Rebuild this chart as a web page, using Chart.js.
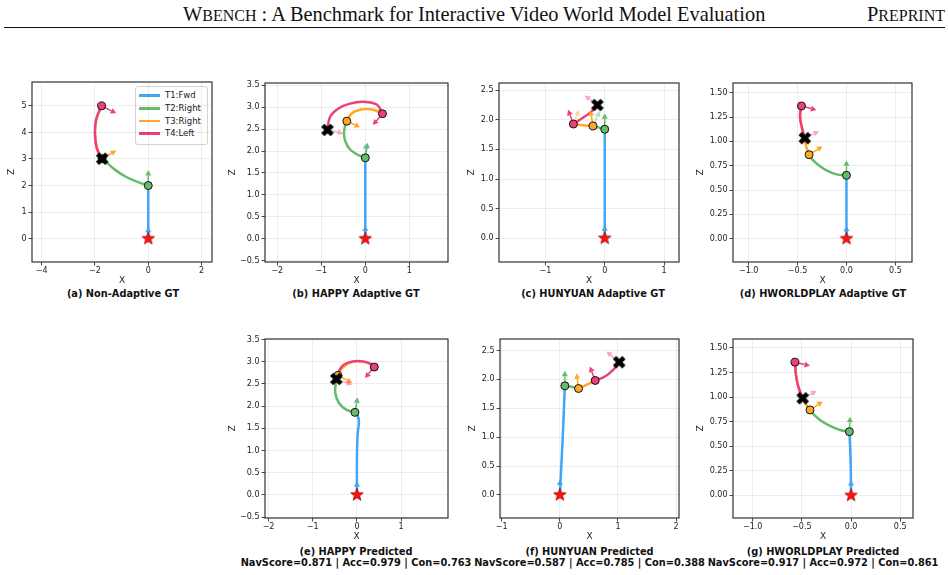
<!DOCTYPE html>
<html>
<head>
<meta charset="utf-8">
<script src="https://cdn.jsdelivr.net/npm/chart.js@4.4.1/dist/chart.umd.min.js"></script>
<style>
body { margin: 0; background: #fff; width: 948px; height: 575px; overflow: hidden; position: relative; font-family: 'DejaVu Sans', sans-serif; }
canvas { position: absolute; }
.hdr { position: absolute; font-family: 'Liberation Serif', serif; font-size: 20.4px; line-height: 22px; color: #111; white-space: nowrap; }
.sc { font-size: 16px; }
.cap { position: absolute; width: 320px; text-align: center; font-weight: bold; font-size: 9.8px; line-height: 12px; color: #111; white-space: nowrap; }
.lg-row { position: absolute; left: 0; height: 12px; font-size: 8.5px; line-height: 12px; color: #222; }
.lg-sw { position: absolute; left: 3px; top: 5px; width: 21px; height: 2.5px; }
.lg-tx { position: absolute; left: 29px; top: 0; white-space: nowrap; }
</style>
</head>
<body>
<div class="hdr" style="left:183px; top:3px;">W<span class="sc">BENCH</span> : A Benchmark for Interactive Video World Model Evaluation</div>
<div class="hdr" style="right:3px; top:3px;">P<span class="sc">REPRINT</span></div>
<div style="position:absolute; left:4px; top:27px; width:941px; height:1px; background:#111;"></div>
<div id="legend" style="position:absolute; left:135px; top:86px; width:71px; height:57px; border:1px solid #d4d4d4; border-radius:3px; background:rgba(255,255,255,0.85);"></div>

<script>
// segment names / colours
var segNames = ['T1:Fwd', 'T2:Right', 'T3:Right', 'T4:Left'];
var segColors = ['#42A5F5', '#66BB6A', '#FFA726', '#EC407A'];

// (a) Non-Adaptive GT  -- points are [x, z]
var aFwd = [[0, 0], [0, 2.0]];
var aRight1 = [[0, 2.0], [-0.43, 2.15], [-0.86, 2.34], [-1.24, 2.59], [-1.53, 2.84], [-1.73, 3.01]];
var aRight2 = [[-1.73, 3.01], [-1.93, 3.41], [-2.0, 3.97], [-1.95, 4.5], [-1.75, 5.0]];
var aLeft = [[-1.75, 5.0], [-1.95, 4.5], [-2.0, 3.97], [-1.93, 3.41], [-1.73, 3.01]];
var aHeads = [
    {seg: 0, from: [0, 0], to: [0, 0.45]},
    {seg: 1, from: [0, 2.0], to: [0, 2.59]},
    {seg: 2, from: [-1.73, 3.01], to: [-1.2, 3.32]},
    {seg: 3, from: [-1.75, 5.0], to: [-1.2, 4.72]}
];

// (b) HAPPY Adaptive GT
var bFwd = [[0, 0], [0, 1.845]];
var bRight1 = [[0, 1.845], [-0.2, 1.93], [-0.35, 2.04], [-0.45, 2.21], [-0.485, 2.4], [-0.455, 2.59], [-0.42, 2.68]];
var bRight2 = [[-0.42, 2.68], [-0.31, 2.855], [-0.16, 2.93], [0.03, 2.955], [0.22, 2.93], [0.39, 2.85]];
var bLeft = [[0.39, 2.85], [0.26, 3.06], [-0.045, 3.12], [-0.35, 3.08], [-0.61, 2.97], [-0.8, 2.78], [-0.86, 2.48]];
var bHeads = [
    {seg: 0, from: [0, 0], to: [0, 0.3]},
    {seg: 0, from: [0, 1.845], to: [0, 2.17], faint: true},
    {seg: 1, from: [0, 1.845], to: [0.053, 2.19]},
    {seg: 2, from: [-0.42, 2.68], to: [-0.12, 2.54]},
    {seg: 3, from: [0.39, 2.85], to: [0.17, 2.59]},
    {seg: 3, from: [-0.86, 2.48], to: [-0.5, 2.4], faint: true}
];

// (c) HUNYUAN Adaptive GT
var cFwd = [[0, 0], [0, 1.84]];
var cRight1 = [[0, 1.84], [-0.096, 1.867], [-0.197, 1.895]];
var cRight2 = [[-0.197, 1.895], [-0.365, 1.906], [-0.528, 1.928]];
var cLeft = [[-0.528, 1.928], [-0.393, 2.018], [-0.253, 2.113], [-0.124, 2.248]];
var cHeads = [
    {seg: 0, from: [0, 0], to: [0, 0.22]},
    {seg: 1, from: [0, 1.84], to: [0, 2.11]},
    {seg: 1, from: [-0.197, 1.895], to: [-0.084, 2.147], faint: true},
    {seg: 2, from: [-0.197, 1.895], to: [-0.242, 2.158]},
    {seg: 2, from: [-0.528, 1.928], to: [-0.433, 2.169], faint: true},
    {seg: 3, from: [-0.528, 1.928], to: [-0.618, 2.169]},
    {seg: 3, from: [-0.124, 2.248], to: [-0.337, 2.41], faint: true}
];

// (d) HWORLDPLAY Adaptive GT
var dFwd = [[0, 0], [0, 0.651]];
var dRight1 = [[0, 0.651], [-0.102, 0.661], [-0.205, 0.702], [-0.29, 0.76], [-0.358, 0.822], [-0.382, 0.863]];
var dRight2 = [[-0.382, 0.863], [-0.41, 0.94], [-0.43, 1.03], [-0.455, 1.14], [-0.475, 1.26], [-0.46, 1.364]];
var dLeft = [[-0.46, 1.364], [-0.475, 1.26], [-0.455, 1.14], [-0.426, 1.033]];
var dHeads = [
    {seg: 0, from: [0, 0], to: [0, 0.133]},
    {seg: 1, from: [0, 0.651], to: [0, 0.805]},
    {seg: 2, from: [-0.382, 0.863], to: [-0.245, 0.948]},
    {seg: 3, from: [-0.46, 1.364], to: [-0.307, 1.323]},
    {seg: 3, from: [-0.426, 1.033], to: [-0.28, 1.105], faint: true}
];

// (e) HAPPY Predicted
var eFwd = [[0, 0], [0, 0.83], [0.015, 1.36], [0.045, 1.657], [0.008, 1.806], [-0.045, 1.859]];
var eRight1 = [[-0.045, 1.859], [-0.241, 1.919], [-0.407, 2.069], [-0.49, 2.294], [-0.48, 2.5], [-0.43, 2.69]];
var eRight2 = [[-0.43, 2.69], [-0.317, 2.87], [-0.09, 3.0], [0.136, 3.0], [0.324, 2.946], [0.392, 2.879]];
var eLeft = [[0.392, 2.879], [0.324, 2.946], [0.136, 3.006], [-0.09, 3.006], [-0.317, 2.916], [-0.44, 2.72], [-0.467, 2.61]];
var eHeads = [
    {seg: 0, from: [0, 0], to: [0, 0.31]},
    {seg: 1, from: [-0.045, 1.859], to: [0.015, 2.196]},
    {seg: 2, from: [-0.43, 2.69], to: [-0.106, 2.519]},
    {seg: 3, from: [0.392, 2.879], to: [0.181, 2.631]},
    {seg: 3, from: [-0.467, 2.61], to: [-0.106, 2.48], faint: true}
];

// (f) HUNYUAN Predicted
var fFwd = [[0, 0], [0.046, 0.927], [0.086, 1.889]];
var fRight1 = [[0.086, 1.889], [0.201, 1.872], [0.321, 1.843]];
var fRight2 = [[0.321, 1.843], [0.459, 1.907], [0.608, 1.982]];
var fLeft = [[0.608, 1.982], [0.775, 2.051], [0.918, 2.166], [1.021, 2.298]];
var fHeads = [
    {seg: 0, from: [0, 0], to: [0, 0.265]},
    {seg: 1, from: [0.086, 1.889], to: [0.086, 2.149]},
    {seg: 2, from: [0.321, 1.843], to: [0.287, 2.108]},
    {seg: 3, from: [0.608, 1.982], to: [0.516, 2.223]},
    {seg: 3, from: [1.021, 2.298], to: [0.803, 2.483], faint: true}
];

// (g) HWORLDPLAY Predicted
var gFwd = [[0, 0], [-0.003, 0.309], [-0.01, 0.512], [-0.017, 0.648]];
var gRight1 = [[-0.017, 0.648], [-0.112, 0.665], [-0.214, 0.706], [-0.316, 0.767], [-0.383, 0.825], [-0.417, 0.869]];
var gRight2 = [[-0.417, 0.869], [-0.458, 0.926], [-0.492, 0.987], [-0.536, 1.106], [-0.56, 1.225], [-0.57, 1.354]];
var gLeft = [[-0.57, 1.354], [-0.56, 1.225], [-0.536, 1.106], [-0.492, 0.987]];
var gHeads = [
    {seg: 0, from: [0, 0], to: [0, 0.156]},
    {seg: 1, from: [-0.017, 0.648], to: [-0.01, 0.80]},
    {seg: 2, from: [-0.417, 0.869], to: [-0.288, 0.954]},
    {seg: 3, from: [-0.57, 1.354], to: [-0.417, 1.317]},
    {seg: 3, from: [-0.492, 0.987], to: [-0.35, 1.062], faint: true}
];

// scores under the predicted panels (e, f, g)
var navScores = [0.871, 0.587, 0.917];
var accScores = [0.979, 0.785, 0.972];
var conScores = [0.763, 0.388, 0.861];

// tick values and labels
var xTicksA = [-4, -2, 0, 2], xLabelsA = ['\u22124', '\u22122', '0', '2'];
var yTicksA = [0, 1, 2, 3, 4, 5], yLabelsA = ['0', '1', '2', '3', '4', '5'];
var xTicksHappy = [-2, -1, 0, 1], xLabelsHappy = ['\u22122', '\u22121', '0', '1'];
var yTicksHappy = [-0.5, 0, 0.5, 1, 1.5, 2, 2.5, 3, 3.5];
var yLabelsHappy = ['\u22120.5', '0.0', '0.5', '1.0', '1.5', '2.0', '2.5', '3.0', '3.5'];
var xTicksHyC = [-1, 0, 1], xLabelsHyC = ['\u22121', '0', '1'];
var xTicksHyF = [-1, 0, 1, 2], xLabelsHyF = ['\u22121', '0', '1', '2'];
var yTicksHy = [0, 0.5, 1, 1.5, 2, 2.5], yLabelsHy = ['0.0', '0.5', '1.0', '1.5', '2.0', '2.5'];
var xTicksHw = [-1, -0.5, 0, 0.5], xLabelsHw = ['\u22121.0', '\u22120.5', '0.0', '0.5'];
var yTicksHw = [0, 0.25, 0.5, 0.75, 1, 1.25, 1.5];
var yLabelsHw = ['0.00', '0.25', '0.50', '0.75', '1.00', '1.25', '1.50'];

function scoreLine(i) {
    return 'NavScore=' + navScores[i].toFixed(3) + ' | Acc=' + accScores[i].toFixed(3) + ' | Con=' + conScores[i].toFixed(3);
}

// box = plot area on the page [left, top, right, bottom]
var panels = [
    {title: '(a) Non-Adaptive GT', segs: [aFwd, aRight1, aRight2, aLeft], heads: aHeads, box: [32, 82, 212, 262], yW: 26,
     xr: [-4.36, 2.39], yr: [-0.88, 5.90], xt: xTicksA, xl: xLabelsA, yt: yTicksA, yl: yLabelsA, cx: 123, cy: 294},
    {title: '(b) HAPPY Adaptive GT', segs: [bFwd, bRight1, bRight2, bLeft], heads: bHeads, box: [265, 83, 448, 262], yW: 38,
     xr: [-2.28, 1.88], yr: [-0.53, 3.55], xt: xTicksHappy, xl: xLabelsHappy, yt: yTicksHappy, yl: yLabelsHappy, cx: 356, cy: 294},
    {title: '(c) HUNYUAN Adaptive GT', segs: [cFwd, cRight1, cRight2, cLeft], heads: cHeads, box: [499, 83, 679, 262], yW: 33,
     xr: [-1.78, 1.25], yr: [-0.40, 2.62], xt: xTicksHyC, xl: xLabelsHyC, yt: yTicksHy, yl: yLabelsHy, cx: 593, cy: 294},
    {title: '(d) HWORLDPLAY Adaptive GT', segs: [dFwd, dRight1, dRight2, dLeft], heads: dHeads, box: [733, 83, 912, 262], yW: 38,
     xr: [-1.16, 0.67], yr: [-0.24, 1.60], xt: xTicksHw, xl: xLabelsHw, yt: yTicksHw, yl: yLabelsHw, cx: 823, cy: 294},
    {title: '(e) HAPPY Predicted', sub: scoreLine(0), segs: [eFwd, eRight1, eRight2, eLeft], heads: eHeads, box: [265, 339, 448, 518], yW: 38,
     xr: [-2.08, 2.06], yr: [-0.52, 3.51], xt: xTicksHappy, xl: xLabelsHappy, yt: yTicksHappy, yl: yLabelsHappy, cx: 356, cy: 551.5},
    {title: '(f) HUNYUAN Predicted', sub: scoreLine(1), segs: [fFwd, fRight1, fRight2, fLeft], heads: fHeads, box: [500, 339, 679, 518], yW: 33,
     xr: [-1.03, 2.05], yr: [-0.40, 2.70], xt: xTicksHyF, xl: xLabelsHyF, yt: yTicksHy, yl: yLabelsHy, cx: 589.5, cy: 551.5},
    {title: '(g) HWORLDPLAY Predicted', sub: scoreLine(2), segs: [gFwd, gRight1, gRight2, gLeft], heads: gHeads, box: [733, 339, 913, 518], yW: 38,
     xr: [-1.20, 0.63], yr: [-0.23, 1.59], xt: xTicksHw, xl: xLabelsHw, yt: yTicksHw, yl: yLabelsHw, cx: 823, cy: 551.5}
];

var PAD_T = 8, PAD_R = 12, X_H = 26;
var tickFont = {family: 'DejaVu Sans', size: 8};
var titleFont = {family: 'DejaVu Sans', size: 9};

function starMarker() {
    var c = document.createElement('canvas');
    c.width = 16; c.height = 16;
    var g = c.getContext('2d');
    g.beginPath();
    for (var i = 0; i < 10; i++) {
        var r = i % 2 ? 2.7 : 6.6, a = -Math.PI / 2 + i * Math.PI / 5;
        g.lineTo(8 + r * Math.cos(a), 8 + r * Math.sin(a));
    }
    g.closePath();
    g.fillStyle = '#ff1010';
    g.fill();
    g.strokeStyle = '#b00000';
    g.lineWidth = 0.8;
    g.stroke();
    return c;
}

function crossMarker() {
    var c = document.createElement('canvas');
    c.width = 18; c.height = 18;
    var g = c.getContext('2d');
    var h = 6.6, w = 2.3;
    var pts = [[-h, -w], [-w, -w], [-w, -h], [w, -h], [w, -w], [h, -w], [h, w], [w, w], [w, h], [-w, h], [-w, w], [-h, w]];
    var ca = Math.cos(Math.PI / 4), sa = Math.sin(Math.PI / 4);
    g.beginPath();
    pts.forEach(function (p) {
        g.lineTo(9 + p[0] * ca - p[1] * sa, 9 + p[0] * sa + p[1] * ca);
    });
    g.closePath();
    g.fillStyle = '#000';
    g.fill();
    return c;
}

var starImg = starMarker();
var crossImg = crossMarker();

function toXY(list) {
    return list.map(function (p) { return {x: p[0], y: p[1]}; });
}

function drawHeads(chart) {
    var ctx = chart.ctx, xs = chart.scales.x, ys = chart.scales.y, ca = chart.chartArea;
    ctx.save();
    ctx.beginPath();
    ctx.rect(ca.left, ca.top, ca.right - ca.left, ca.bottom - ca.top);
    ctx.clip();
    chart.options.plugins.traj.heads.forEach(function (h) {
        var x0 = xs.getPixelForValue(h.from[0]), y0 = ys.getPixelForValue(h.from[1]);
        var x1 = xs.getPixelForValue(h.to[0]), y1 = ys.getPixelForValue(h.to[1]);
        var ang = Math.atan2(y1 - y0, x1 - x0);
        var co = Math.cos(ang), si = Math.sin(ang);
        var hl = 5.5, hw = 3;
        ctx.globalAlpha = h.faint ? 0.45 : 1;
        ctx.strokeStyle = segColors[h.seg];
        ctx.fillStyle = segColors[h.seg];
        ctx.lineWidth = 1.5;
        ctx.beginPath();
        ctx.moveTo(x0, y0);
        ctx.lineTo(x1 - hl * co, y1 - hl * si);
        ctx.stroke();
        ctx.beginPath();
        ctx.moveTo(x1, y1);
        ctx.lineTo(x1 - hl * co + hw * si, y1 - hl * si - hw * co);
        ctx.lineTo(x1 - hl * co - hw * si, y1 - hl * si + hw * co);
        ctx.closePath();
        ctx.fill();
    });
    ctx.restore();
}

var trajPlugin = {
    id: 'traj',
    beforeDatasetsDraw: function (chart) { chart.$headsDone = false; },
    beforeDatasetDraw: function (chart, args) {
        if (chart.data.datasets[args.index].isMarker && !chart.$headsDone) {
            drawHeads(chart);
            chart.$headsDone = true;
        }
    },
    afterDraw: function (chart) {
        var ctx = chart.ctx, ca = chart.chartArea;
        ctx.save();
        ctx.strokeStyle = '#333';
        ctx.lineWidth = 1.2;
        ctx.strokeRect(ca.left, ca.top, ca.right - ca.left, ca.bottom - ca.top);
        ctx.restore();
    }
};

function axisOpts(range, ticks, labels, title, isX, size) {
    return {
        type: 'linear',
        min: range[0],
        max: range[1],
        afterBuildTicks: function (s) { s.ticks = ticks.map(function (v) { return {value: v}; }); },
        afterFit: function (s) { if (isX) { s.height = size; } else { s.width = size; } },
        ticks: {
            autoSkip: false, maxRotation: 0, font: tickFont, color: '#222', padding: isX ? 1 : 2,
            callback: function (v, i) { return labels[i]; }
        },
        grid: {color: 'rgba(0,0,0,0.09)', lineWidth: 0.8, tickColor: '#333', tickLength: 3.5, tickWidth: 0.9},
        border: {display: false},
        title: {display: true, text: title, font: titleFont, color: '#222', padding: isX ? {top: 0, bottom: 2} : 0}
    };
}

function makePanel(p) {
    var L = p.box[0], T = p.box[1], R = p.box[2], B = p.box[3];
    var cv = document.createElement('canvas');
    cv.width = p.yW + (R - L) + PAD_R;
    cv.height = PAD_T + (B - T) + X_H;
    cv.style.left = (L - p.yW) + 'px';
    cv.style.top = (T - PAD_T) + 'px';
    document.body.appendChild(cv);

    var datasets = [];
    p.segs.forEach(function (seg, i) {
        datasets.push({
            data: toXY(seg), showLine: true, borderColor: segColors[i], borderWidth: 2.5,
            pointRadius: 0, tension: 0.4, fill: false, borderCapStyle: 'round', borderJoinStyle: 'round',
            order: 5 - i * 0.5
        });
    });
    datasets.push({data: toXY([p.segs[0][0]]), pointStyle: starImg, pointRadius: 7, order: 1, isMarker: true});
    for (var i = 1; i < 4; i++) {
        datasets.push({
            data: toXY([p.segs[i][0]]), pointRadius: 4, pointBackgroundColor: segColors[i],
            pointBorderColor: '#111', pointBorderWidth: 1, order: 1, isMarker: true
        });
    }
    var last = p.segs[3][p.segs[3].length - 1];
    datasets.push({data: toXY([last]), pointStyle: crossImg, pointRadius: 7, order: 0, isMarker: true});

    new Chart(cv.getContext('2d'), {
        type: 'scatter',
        data: {datasets: datasets},
        options: {
            responsive: false, animation: false, devicePixelRatio: 1,
            layout: {padding: {top: PAD_T, right: PAD_R, left: 0, bottom: 0}},
            plugins: {legend: {display: false}, tooltip: {enabled: false}, traj: {heads: p.heads}},
            scales: {
                x: axisOpts(p.xr, p.xt, p.xl, 'X', true, X_H),
                y: axisOpts(p.yr, p.yt, p.yl, 'Z', false, p.yW)
            }
        },
        plugins: [trajPlugin]
    });

    var cap = document.createElement('div');
    cap.className = 'cap';
    cap.style.left = (p.cx - 160) + 'px';
    cap.style.top = (p.cy - 6) + 'px';
    cap.textContent = p.title;
    document.body.appendChild(cap);
    if (p.sub) {
        var sub = document.createElement('div');
        sub.className = 'cap';
        sub.style.left = (p.cx - 160) + 'px';
        sub.style.top = (p.cy + 5.8) + 'px';
        sub.textContent = p.sub;
        document.body.appendChild(sub);
    }
}

panels.forEach(makePanel);

// legend inside panel (a)
var lg = document.getElementById('legend');
segNames.forEach(function (name, i) {
    var row = document.createElement('div');
    row.className = 'lg-row';
    row.style.top = (2.3 + i * 12.7) + 'px';
    row.style.width = '70px';
    row.innerHTML = '<div class="lg-sw" style="background:' + segColors[i] + '"></div><div class="lg-tx"></div>';
    row.lastChild.textContent = name;
    lg.appendChild(row);
});
</script>
</body>
</html>
